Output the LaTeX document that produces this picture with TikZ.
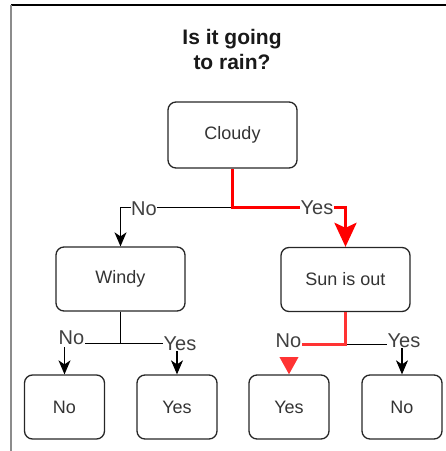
\documentclass[tikz,border=0pt]{standalone}
\usepackage{fontspec}
\setmainfont{Liberation Sans}
\usetikzlibrary{arrows.meta}
\definecolor{txt}{HTML}{333333}
\definecolor{lbltxt}{HTML}{404040}
\definecolor{redA}{HTML}{FF0000}
\definecolor{redB}{HTML}{FF3333}
\tikzset{
  box/.style={draw=black!85, line width=1.3pt, rounded corners=8pt, align=center,
    text=txt, font=\fontsize{18}{21}\selectfont, inner sep=0pt},
  bigbox/.style={box, minimum width=129pt, minimum height=64pt},
  leafbox/.style={box, minimum width=80pt, minimum height=64pt},
  edge/.style={draw=black, line width=1.1pt, -{Stealth[length=14pt,width=12pt,inset=4pt]}},
  rededge/.style={draw=redA, line width=3.5pt, -{Stealth[length=24pt,width=22pt,inset=5pt]}},
  rededgeB/.style={draw=redB, line width=3pt, -{Triangle[length=18pt,width=19pt]}},
  lbl/.style={fill=white, text=lbltxt, font=\fontsize{20}{22}\selectfont, inner sep=0.5pt},
}
\begin{document}
\begin{tikzpicture}[x=1pt,y=-1pt]
\useasboundingbox (0,0) rectangle (446,451);
\coordinate (ftl) at (11,5);
\coordinate (ftr) at (446,5);
\coordinate (fbl) at (11,451);
\draw[black, line width=1.2pt] (ftl) -- (ftr);
\draw[black!45, line width=1.6pt] (ftl) -- (fbl);
\node[font=\fontsize{21}{25}\selectfont\bfseries, align=center, text=black!90] (title) at (232,49) {Is it going\\to rain?};
\node[bigbox, minimum height=66pt] (cloudy) at (232.5,135) {Cloudy};
\node[bigbox] (windy) at (120.5,279) {Windy};
\node[bigbox] (sun) at (345.5,279.5) {Sun is out};
\node[leafbox] (l1) at (64.5,407) {No};
\node[leafbox] (l2) at (177,407) {Yes};
\node[leafbox] (l3) at (289,407) {Yes};
\node[leafbox] (l4) at (402,407) {No};
% edges
\draw[edge] (cloudy.south) -- ++(0,39) -| (windy.north);
\draw[rededge] (cloudy.south) -- ++(0,39) -| (sun.north);
\draw[edge] (windy.south) -- ++(0,32) -| (l1.north);
\draw[edge] (windy.south) -- ++(0,32) -| (l2.north);
\draw[edge] (sun.south) -- ++(0,32) -| (l4.north);
\draw[rededgeB] (sun.south) -- ++(0,32) -| (l3.north);
% labels
\node[lbl] (n1) at (144,209) {No};
\node[lbl] (y1) at (317,208) {Yes};
\node[lbl, text depth=2pt] (n2) at (71.5,339) {No};
\node[lbl] (y2) at (180,344) {Yes};
\node[lbl, text depth=9pt] (n3) at (288.5,345.5) {No};
\node[lbl] (y3) at (404,341) {Yes};
\end{tikzpicture}
\end{document}
